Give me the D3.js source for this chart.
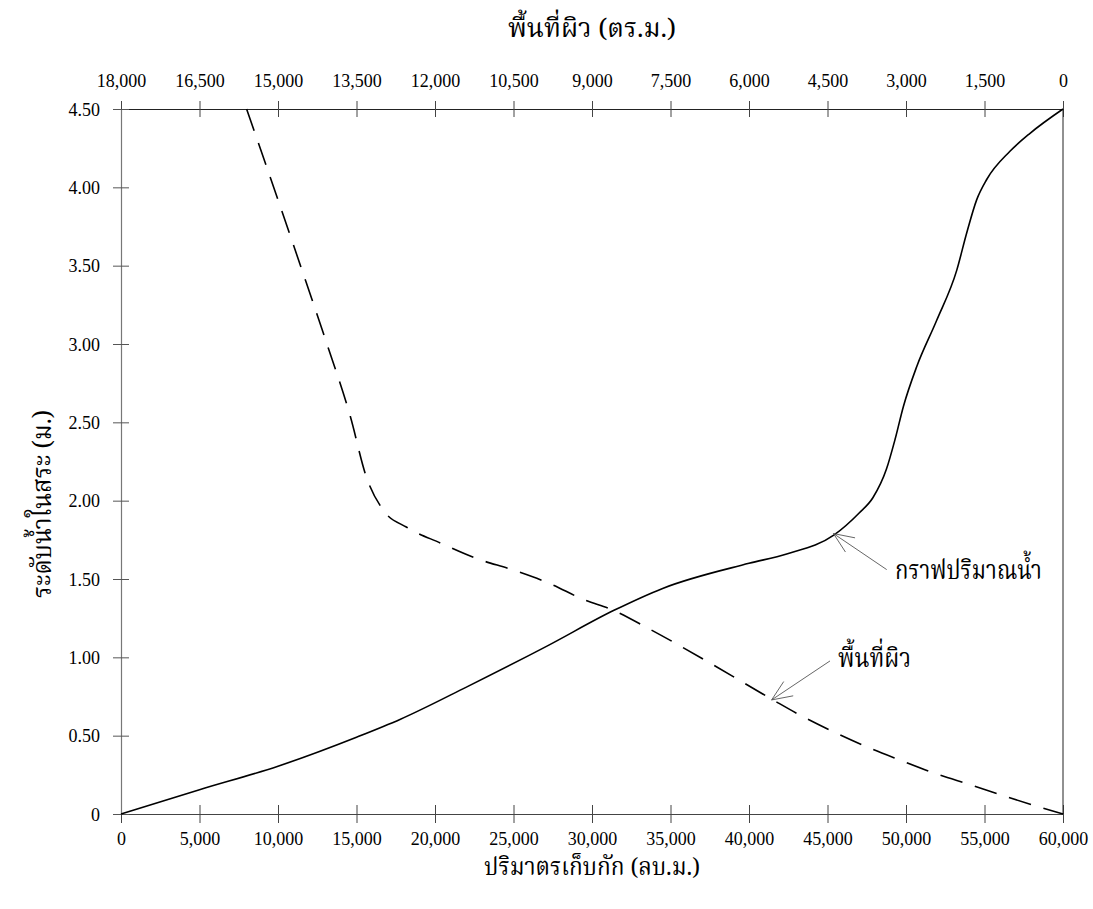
<!DOCTYPE html>
<html>
<head>
<meta charset="utf-8">
<script src="https://cdn.jsdelivr.net/npm/d3@7"></script>
<style>
  body { margin: 0; background: #fff; }
  svg text { font-family: "Liberation Serif", "Times New Roman", serif; fill: #000; }
  .thai { font-family: "Noto Serif Thai", "Noto Sans Thai", "Loma", "Garuda", "Norasi", "Liberation Serif", "DejaVu Sans", serif; }
</style>
</head>
<body>
<div id="chart"></div>
<script>
// storage curve: volume (cu.m.) vs water level (m.)
const storageVolume = [0, 5000, 10000, 15000, 17800, 22000, 27100, 31400, 34500, 40000, 42400, 45400, 47000, 47900, 48750, 49300, 49830, 50680, 51950, 53230, 53870, 54500, 55140, 56620, 57900, 60000];
const storageLevel  = [0, 0.155, 0.305, 0.49, 0.605, 0.81, 1.07, 1.30, 1.44, 1.60, 1.66, 1.78, 1.92, 2.02, 2.20, 2.39, 2.60, 2.855, 3.15, 3.47, 3.71, 3.92, 4.05, 4.23, 4.345, 4.50];

// surface area curve: area (sq.m.) vs water level (m.)
const surfaceArea  = [15600, 15330, 15000, 14560, 14090, 13620, 13310, 12990, 12540, 11900, 11200, 10500, 9800, 9170, 8590, 7925, 6710, 5540, 5030, 4390, 3760, 3120, 2450, 1750, 1080, 0];
const surfaceLevel = [4.50, 4.24, 3.92, 3.49, 3.025, 2.54, 2.15, 1.94, 1.83, 1.73, 1.63, 1.557, 1.47, 1.37, 1.30, 1.185, 0.957, 0.728, 0.632, 0.525, 0.43, 0.345, 0.26, 0.185, 0.11, 0];

const volumeTicks = [0, 5000, 10000, 15000, 20000, 25000, 30000, 35000, 40000, 45000, 50000, 55000, 60000];
const areaTicks = [18000, 16500, 15000, 13500, 12000, 10500, 9000, 7500, 6000, 4500, 3000, 1500, 0];
const levelTicks = [0, 0.5, 1, 1.5, 2, 2.5, 3, 3.5, 4, 4.5];

const bottomTitle = "ปริมาตรเก็บกัก (ลบ.ม.)";
const topTitle = "พื้นที่ผิว (ตร.ม.)";
const leftTitle = "ระดับน้ำในสระ (ม.)";

// annotations, positioned in volume / level units
const notes = [
    { label: "กราฟปริมาณน้ำ", head: [45380, 1.79], tail: [48770, 1.56], text: [49300, 1.50], width: 147 },
    { label: "พื้นที่ผิว", head: [41440, 0.728], tail: [45160, 0.977], text: [45670, 0.94], width: 73 }
];

const width = 1093, height = 909;
const margin = { top: 109, right: 30, bottom: 95, left: 121 };

const svg = d3.select("#chart").append("svg")
    .attr("width", width)
    .attr("height", height);

const x = d3.scaleLinear().domain([0, 60000]).range([margin.left, width - margin.right]);
const xTop = d3.scaleLinear().domain([18000, 0]).range([margin.left, width - margin.right]);
const y = d3.scaleLinear().domain([0, 4.5]).range([height - margin.bottom, margin.top]);

const fmt = d3.format(",");

// bottom axis
const gBottom = svg.append("g")
    .attr("transform", `translate(0,${height - margin.bottom})`)
    .call(d3.axisBottom(x).tickValues(volumeTicks).tickSize(9).tickSizeOuter(0).tickFormat(fmt));
gBottom.select(".domain").attr("stroke", "#444");
gBottom.selectAll(".tick line").attr("y1", -9).attr("stroke", "#444");
gBottom.selectAll(".tick text").attr("y", 31).attr("dy", 0).style("font-size", "18px");

// top axis
const gTop = svg.append("g")
    .attr("transform", `translate(0,${margin.top})`)
    .call(d3.axisTop(xTop).tickValues(areaTicks).tickSize(8).tickSizeOuter(0).tickFormat(fmt));
gTop.select(".domain").attr("stroke", "#222");
gTop.selectAll(".tick line").attr("y1", 8).attr("stroke", "#444");
gTop.selectAll(".tick text").attr("y", -22).attr("dy", 0).style("font-size", "18px");

// left axis
const gLeft = svg.append("g")
    .attr("transform", `translate(${margin.left},0)`)
    .call(d3.axisLeft(y).tickValues(levelTicks).tickSize(8).tickSizeOuter(0)
        .tickFormat(d => d === 0 ? "0" : d3.format(".2f")(d)));
gLeft.select(".domain").attr("stroke", "#777");
gLeft.selectAll(".tick line").attr("x1", 8).attr("stroke", "#555");
gLeft.selectAll(".tick text").attr("x", -21).attr("dy", "0.35em").style("font-size", "18px");

// right frame
svg.append("line")
    .attr("x1", x(60000)).attr("x2", x(60000))
    .attr("y1", y(4.5)).attr("y2", y(0))
    .attr("stroke", "#222");

svg.selectAll(".domain").attr("stroke-width", 1.2);

// curves
const storageLine = d3.line()
    .x((d, i) => x(storageVolume[i]))
    .y((d, i) => y(storageLevel[i]))
    .curve(d3.curveMonotoneX);

svg.append("path")
    .attr("d", storageLine(storageVolume))
    .attr("fill", "none")
    .attr("stroke", "#000")
    .attr("stroke-width", 1.6);

const areaLine = d3.line()
    .x((d, i) => xTop(surfaceArea[i]))
    .y((d, i) => y(surfaceLevel[i]))
    .curve(d3.curveMonotoneX);

svg.append("path")
    .attr("d", areaLine(surfaceArea))
    .attr("fill", "none")
    .attr("stroke", "#000")
    .attr("stroke-width", 1.6)
    .attr("stroke-dasharray", "23,13");

// annotation arrows
notes.forEach(n => {
    const hx = x(n.head[0]), hy = y(n.head[1]);
    const tx = x(n.tail[0]), ty = y(n.tail[1]);
    const g = svg.append("g").attr("stroke", "#555").attr("stroke-width", 0.9);
    g.append("line").attr("x1", tx).attr("y1", ty).attr("x2", hx).attr("y2", hy);
    const ang = Math.atan2(ty - hy, tx - hx);
    [-0.4, 0.4].forEach(off => {
        g.append("line")
            .attr("x1", hx).attr("y1", hy)
            .attr("x2", hx + 22 * Math.cos(ang + off))
            .attr("y2", hy + 22 * Math.sin(ang + off));
    });
    svg.append("text")
        .attr("class", "thai")
        .attr("x", x(n.text[0]))
        .attr("y", y(n.text[1]))
        .attr("textLength", n.width)
        .attr("lengthAdjust", "spacingAndGlyphs")
        .style("font-size", "27px")
        .text(n.label);
});

// axis titles
svg.append("text")
    .attr("class", "thai")
    .attr("x", 592).attr("y", 875)
    .attr("text-anchor", "middle")
    .attr("textLength", 216)
    .attr("lengthAdjust", "spacingAndGlyphs")
    .style("font-size", "24px")
    .text(bottomTitle);

svg.append("text")
    .attr("class", "thai")
    .attr("x", 592).attr("y", 37)
    .attr("text-anchor", "middle")
    .attr("textLength", 168)
    .attr("lengthAdjust", "spacingAndGlyphs")
    .style("font-size", "26px")
    .text(topTitle);

svg.append("text")
    .attr("class", "thai")
    .attr("transform", "translate(51,504) rotate(-90)")
    .attr("text-anchor", "middle")
    .attr("textLength", 188)
    .attr("lengthAdjust", "spacingAndGlyphs")
    .style("font-size", "26px")
    .text(leftTitle);
</script>
</body>
</html>
